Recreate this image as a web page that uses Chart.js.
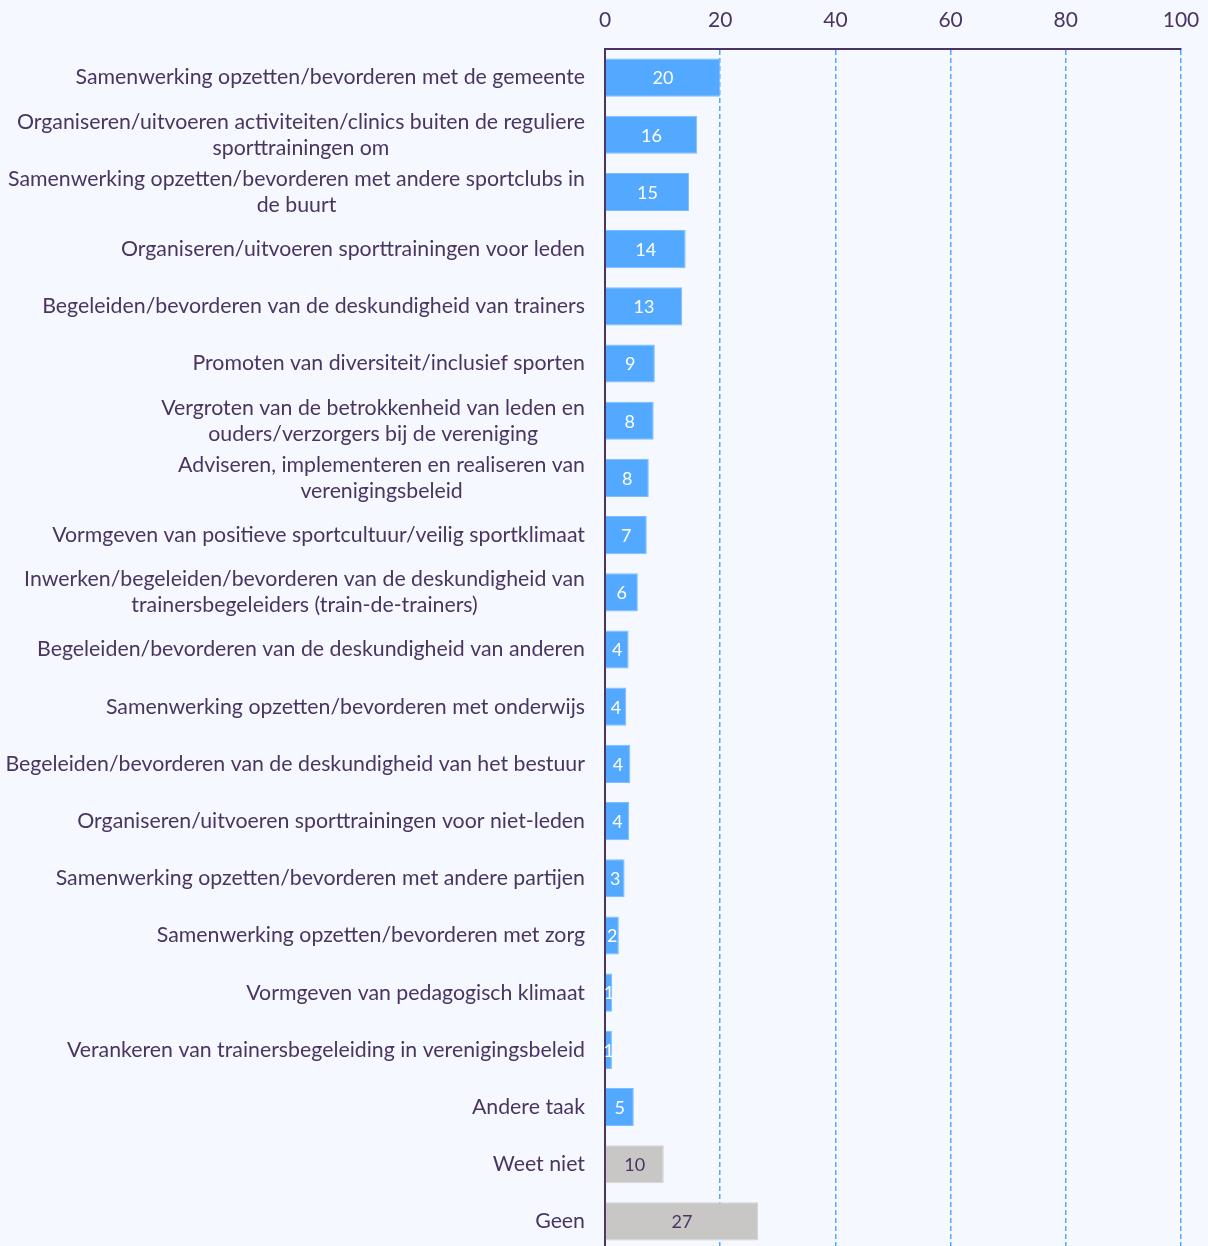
<!DOCTYPE html>
<html lang="nl">
<head>
    <meta charset="UTF-8">
    <title>Taken</title>
    <script src="https://cdn.jsdelivr.net/npm/chart.js"></script>
    <style>
        html, body {
            margin: 0;
            padding: 0;
            background: #f5f8fe;
            overflow: hidden;
        }
        #wrap {
            width: 1208px;
            height: 1246px;
            overflow: hidden;
        }
    </style>
</head>
<body>
    <div id="wrap"><canvas id="takenChart" width="1208" height="1250"></canvas></div>
    <script>
        const categories = [
            "Samenwerking opzetten/bevorderen met de gemeente",
            ["Organiseren/uitvoeren activiteiten/clinics buiten de reguliere", "sporttrainingen om"],
            ["Samenwerking opzetten/bevorderen met andere sportclubs in", "de buurt"],
            "Organiseren/uitvoeren sporttrainingen voor leden",
            "Begeleiden/bevorderen van de deskundigheid van trainers",
            "Promoten van diversiteit/inclusief sporten",
            ["Vergroten van de betrokkenheid van leden en", "ouders/verzorgers bij de vereniging"],
            ["Adviseren, implementeren en realiseren van", "verenigingsbeleid"],
            "Vormgeven van positieve sportcultuur/veilig sportklimaat",
            ["Inwerken/begeleiden/bevorderen van de deskundigheid van", "trainersbegeleiders (train-de-trainers)"],
            "Begeleiden/bevorderen van de deskundigheid van anderen",
            "Samenwerking opzetten/bevorderen met onderwijs",
            "Begeleiden/bevorderen van de deskundigheid van het bestuur",
            "Organiseren/uitvoeren sporttrainingen voor niet-leden",
            "Samenwerking opzetten/bevorderen met andere partijen",
            "Samenwerking opzetten/bevorderen met zorg",
            "Vormgeven van pedagogisch klimaat",
            "Verankeren van trainersbegeleiding in verenigingsbeleid",
            "Andere taak",
            "Weet niet",
            "Geen"
        ];
        // percentages as drawn (bar lengths)
        const values = [20.0, 16.0, 14.6, 14.0, 13.4, 8.65, 8.45, 7.6, 7.25, 5.7,
                        4.1, 3.7, 4.4, 4.2, 3.4, 2.4, 1.25, 1.2, 5.0, 10.2, 26.6];
        // numbers printed on the bars
        const shown = [20, 16, 15, 14, 13, 9, 8, 8, 7, 6, 4, 4, 4, 4, 3, 2, 1, 1, 5, 10, 27];
        const xTicks = [0, 20, 40, 60, 80, 100];
        const neutral = ["Weet niet", "Geen"];

        const textColor = '#4a3560';
        const blue = '#52a9ff';
        const grey = '#c8c7c5';
        const FONT = 'Lato, "Open Sans", sans-serif';

        const isNeutral = i => neutral.includes(categories[i]);

        // y labels: right aligned block, lines centred inside the block
        const yLabels = {
            id: 'yLabels',
            afterDraw(chart) {
                const ctx = chart.ctx;
                const y = chart.scales.y;
                const right = chart.chartArea.left - 20;
                const lh = 26;
                ctx.save();
                ctx.font = '21.3px ' + FONT;
                ctx.fillStyle = textColor;
                ctx.textAlign = 'center';
                ctx.textBaseline = 'middle';
                categories.forEach((c, i) => {
                    const lines = Array.isArray(c) ? c : [c];
                    const w = Math.max(...lines.map(l => ctx.measureText(l).width));
                    const cx = right - w / 2;
                    const cy = y.getPixelForValue(i);
                    lines.forEach((l, k) => {
                        ctx.fillText(l, cx, cy + (k - (lines.length - 1) / 2) * lh);
                    });
                });
                ctx.restore();
            }
        };

        const barLabels = {
            id: 'barLabels',
            afterDatasetsDraw(chart) {
                const ctx = chart.ctx;
                const meta = chart.getDatasetMeta(0);
                ctx.save();
                ctx.font = '18px ' + FONT;
                ctx.textAlign = 'center';
                ctx.textBaseline = 'middle';
                meta.data.forEach((bar, i) => {
                    ctx.fillStyle = isNeutral(i) ? textColor : '#ffffff';
                    ctx.fillText(String(shown[i]), (bar.x + bar.base) / 2, bar.y + 1);
                });
                ctx.restore();
            }
        };

        new Chart(document.getElementById('takenChart'), {
            type: 'bar',
            data: {
                labels: categories,
                datasets: [{
                    data: values,
                    backgroundColor: ctx => isNeutral(ctx.dataIndex) ? grey : blue,
                    borderColor: ctx => isNeutral(ctx.dataIndex) ? '#d4d3d1' : '#7cbdff',
                    borderWidth: 1,
                    borderSkipped: 'left',
                    barPercentage: 0.667,
                    categoryPercentage: 1
                }]
            },
            options: {
                indexAxis: 'y',
                responsive: false,
                animation: false,
                layout: { padding: { right: 27, top: 0, bottom: 0, left: 0 } },
                plugins: {
                    legend: { display: false },
                    tooltip: { enabled: false }
                },
                scales: {
                    x: {
                        position: 'top',
                        min: 0,
                        max: 100,
                        afterBuildTicks: s => { s.ticks = xTicks.map(v => ({ value: v })); },
                        afterFit: s => {
                            s.height = 49;
                            s.paddingLeft = 0;
                            s.paddingRight = 0;
                        },
                        ticks: {
                            color: textColor,
                            font: { family: FONT, size: 21 },
                            padding: 16,
                            maxRotation: 0
                        },
                        grid: {
                            color: c => c.tick && c.tick.value === 0 ? 'transparent' : '#52a9ff',
                            lineWidth: 1.5,
                            drawTicks: false
                        },
                        border: {
                            display: true,
                            color: textColor,
                            width: 2,
                            dash: [5, 3]
                        }
                    },
                    y: {
                        afterFit: s => { s.width = 605; },
                        ticks: { display: false },
                        grid: { display: false, drawTicks: false },
                        border: { display: true, color: textColor, width: 2 }
                    }
                }
            },
            plugins: [yLabels, barLabels]
        });
    </script>
</body>
</html>
